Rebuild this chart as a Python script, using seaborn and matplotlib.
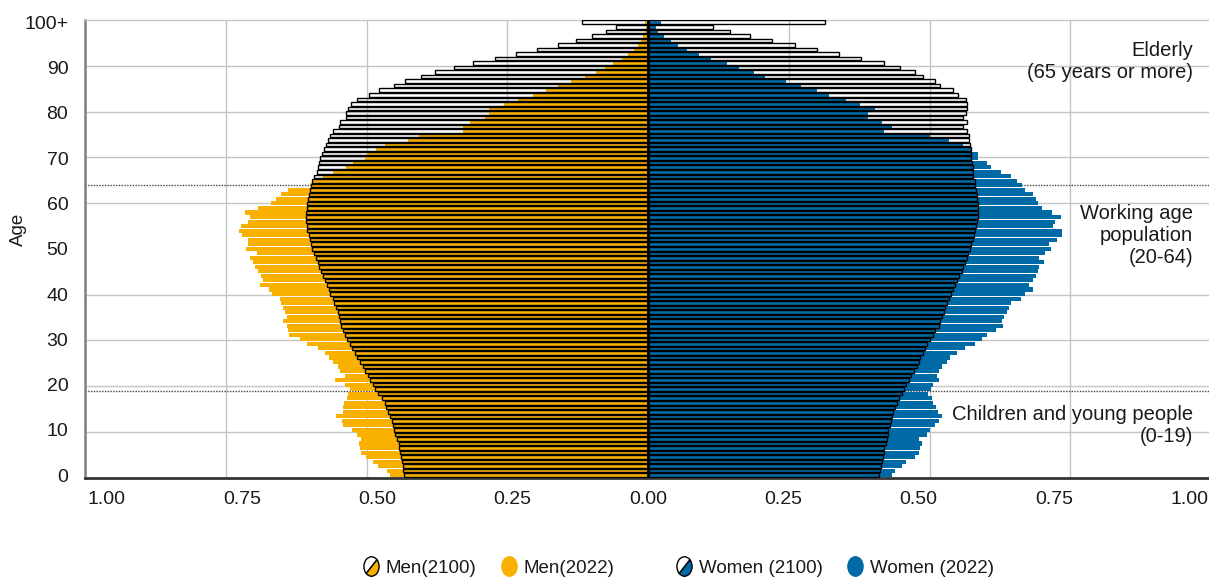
import matplotlib.pyplot as plt
import seaborn as sns
import pandas as pd
from matplotlib.markers import MarkerStyle
from matplotlib.transforms import Affine2D
from matplotlib.lines import Line2D

# share of population (%) by single year of age, age 0 .. 100+
ages = list(range(101))

men_2022 = [0.459, 0.464, 0.479, 0.488, 0.501, 0.509, 0.512, 0.513, 0.509, 0.517,
            0.526, 0.541, 0.544, 0.554, 0.541, 0.541, 0.540, 0.535, 0.532, 0.529,
            0.538, 0.556, 0.539, 0.547, 0.551, 0.559, 0.566, 0.574, 0.587, 0.606,
            0.618, 0.637, 0.639, 0.641, 0.648, 0.642, 0.645, 0.648, 0.651, 0.654,
            0.668, 0.673, 0.689, 0.684, 0.687, 0.693, 0.698, 0.701, 0.707, 0.695,
            0.714, 0.710, 0.711, 0.722, 0.726, 0.723, 0.710, 0.707, 0.715, 0.692,
            0.670, 0.661, 0.651, 0.639, 0.600, 0.596, 0.577, 0.560, 0.536, 0.524,
            0.503, 0.499, 0.483, 0.467, 0.426, 0.406, 0.329, 0.329, 0.316, 0.290,
            0.282, 0.282, 0.255, 0.231, 0.204, 0.182, 0.159, 0.136, 0.112, 0.093,
            0.076, 0.063, 0.047, 0.035, 0.025, 0.017, 0.012, 0.008, 0.005, 0.003,
            0.005]

men_2100 = [0.433, 0.435, 0.436, 0.437, 0.438, 0.440, 0.442, 0.443, 0.446, 0.449,
            0.451, 0.453, 0.455, 0.458, 0.461, 0.465, 0.468, 0.473, 0.479, 0.485,
            0.489, 0.494, 0.498, 0.502, 0.507, 0.512, 0.516, 0.520, 0.525, 0.529,
            0.534, 0.538, 0.541, 0.545, 0.547, 0.549, 0.551, 0.554, 0.557, 0.560,
            0.564, 0.567, 0.570, 0.573, 0.577, 0.580, 0.584, 0.587, 0.590, 0.593,
            0.597, 0.599, 0.601, 0.603, 0.605, 0.606, 0.607, 0.607, 0.607, 0.606,
            0.605, 0.604, 0.602, 0.600, 0.599, 0.596, 0.593, 0.588, 0.587, 0.584,
            0.582, 0.579, 0.575, 0.572, 0.569, 0.564, 0.559, 0.548, 0.547, 0.537,
            0.536, 0.532, 0.527, 0.516, 0.496, 0.478, 0.451, 0.431, 0.404, 0.379,
            0.345, 0.311, 0.272, 0.234, 0.197, 0.159, 0.127, 0.099, 0.075, 0.056,
            0.118]

women_2022 = [0.433, 0.438, 0.451, 0.459, 0.474, 0.482, 0.483, 0.486, 0.481, 0.496,
              0.500, 0.510, 0.517, 0.522, 0.515, 0.512, 0.507, 0.504, 0.498, 0.502,
              0.506, 0.517, 0.513, 0.516, 0.523, 0.531, 0.536, 0.548, 0.563, 0.580,
              0.593, 0.603, 0.618, 0.631, 0.628, 0.633, 0.637, 0.642, 0.645, 0.663,
              0.670, 0.683, 0.677, 0.683, 0.689, 0.692, 0.694, 0.704, 0.694, 0.705,
              0.716, 0.713, 0.726, 0.735, 0.735, 0.720, 0.723, 0.733, 0.717, 0.699,
              0.693, 0.689, 0.683, 0.670, 0.664, 0.655, 0.644, 0.627, 0.609, 0.603,
              0.587, 0.587, 0.574, 0.560, 0.535, 0.501, 0.419, 0.434, 0.416, 0.390,
              0.390, 0.403, 0.376, 0.351, 0.321, 0.301, 0.272, 0.245, 0.208, 0.188,
              0.162, 0.141, 0.112, 0.091, 0.069, 0.054, 0.040, 0.028, 0.018, 0.014,
              0.023]

women_2100 = [0.410, 0.412, 0.414, 0.416, 0.417, 0.419, 0.420, 0.422, 0.424, 0.426,
              0.427, 0.430, 0.431, 0.433, 0.436, 0.439, 0.442, 0.446, 0.451, 0.455,
              0.459, 0.464, 0.468, 0.472, 0.477, 0.481, 0.484, 0.488, 0.492, 0.496,
              0.501, 0.506, 0.509, 0.516, 0.519, 0.522, 0.525, 0.528, 0.531, 0.535,
              0.539, 0.542, 0.546, 0.549, 0.553, 0.557, 0.560, 0.563, 0.566, 0.569,
              0.572, 0.574, 0.577, 0.579, 0.581, 0.583, 0.584, 0.586, 0.587, 0.587,
              0.586, 0.585, 0.584, 0.583, 0.581, 0.580, 0.578, 0.578, 0.577, 0.575,
              0.574, 0.574, 0.574, 0.572, 0.571, 0.570, 0.567, 0.560, 0.566, 0.560,
              0.564, 0.566, 0.567, 0.564, 0.551, 0.541, 0.519, 0.509, 0.489, 0.475,
              0.448, 0.420, 0.378, 0.340, 0.300, 0.261, 0.220, 0.181, 0.146, 0.116,
              0.314]

x_tick_values = [-1.0, -0.75, -0.5, -0.25, 0.0, 0.25, 0.5, 0.75, 1.0]
y_tick_values = [0, 10, 20, 30, 40, 50, 60, 70, 80, 90, 100]
y_tick_labels = ["0", "10", "20", "30", "40", "50", "60", "70", "80", "90", "100+"]

ORANGE = "#F9B000"
BLUE = "#006AA7"

df = pd.DataFrame({
    "age": ages,
    "men_2022": [-v for v in men_2022],
    "men_2100": [-v for v in men_2100],
    "women_2022": women_2022,
    "women_2100": women_2100,
})

sns.set_style("white")
plt.rcParams['font.family'] = ['Liberation Sans', 'DejaVu Sans']
plt.rcParams['text.color'] = '#1a1a1a'

fig = plt.figure(figsize=(12.09, 5.80), dpi=100)
ax = fig.add_axes([85 / 1209, 102.5 / 580, 1126 / 1209, 457.5 / 580])

for col, colour in [("men_2022", ORANGE), ("women_2022", BLUE)]:
    sns.barplot(data=df, x=col, y="age", orient="y", native_scale=True,
                color=colour, saturation=1, width=0.9, errorbar=None,
                linewidth=0, ax=ax, zorder=2)

for col in ["men_2100", "women_2100"]:
    sns.barplot(data=df, x=col, y="age", orient="y", native_scale=True,
                color="black", fill=False, saturation=1, width=0.78,
                errorbar=None, linewidth=1.0, ax=ax, zorder=3)

ax.axvline(0, color="black", lw=2, zorder=5)

# age-group separators
for yv in [64, 18.6]:
    ax.axhline(yv, color="#444444", lw=1, ls=(0, (1, 1)), zorder=1)

ax.set_xlim(-1.0, 1.0)
ax.set_ylim(-0.5, 100.5)

ax.set_xticks([v * 0.961 for v in x_tick_values])
ax.set_xticklabels([f"{abs(v):.2f}" for v in x_tick_values])
ax.set_xticks([-0.75, -0.5, -0.25, 0.25, 0.5, 0.75], minor=True)
ax.set_yticks(y_tick_values)
ax.set_yticklabels(y_tick_labels)
ax.set_yticks([-0.5 + 10.1 * k for k in range(1, 10)], minor=True)
ax.grid(False, which="major")
ax.grid(True, which="minor", color="#c4c4c4", lw=1)
ax.set_axisbelow(True)
ax.tick_params(which="both", length=0, labelsize=14, colors="#1a1a1a")
ax.tick_params(axis="x", pad=10)
ax.tick_params(axis="y", pad=12)
ax.set_xlabel("")
ax.set_ylabel("")

ax.spines["left"].set_color("#7f7f7f")
ax.spines["left"].set_linewidth(1.8)
ax.spines["bottom"].set_color("#333333")
ax.spines["bottom"].set_linewidth(2)
ax.spines["top"].set_color("#c4c4c4")
ax.spines["top"].set_linewidth(1)
ax.spines["right"].set_visible(False)

fig.text(0.015, 1 - 229 / 580, "Age", rotation=90, ha="center", va="center", fontsize=13.5)

tx = 1193 / 1209
fig.text(tx, 1 - 61 / 580, "Elderly\n(65 years or more)", ha="right", va="center",
         multialignment="right", fontsize=14.5, linespacing=1.2)
fig.text(tx, 1 - 236 / 580, "Working age\npopulation\n(20-64)", ha="right", va="center",
         multialignment="right", fontsize=14.5, linespacing=1.2)
fig.text(tx, 1 - 425 / 580, "Children and young people\n(0-19)", ha="right", va="center",
         multialignment="right", fontsize=14.5, linespacing=1.2)

half = MarkerStyle("o", fillstyle="bottom",
                   transform=Affine2D().rotate_deg(45).scale(0.78, 1.0))
full = MarkerStyle("o", transform=Affine2D().scale(0.78, 1.0))


def handle(marker, face, edge):
    return Line2D([], [], ls="", marker=marker, markersize=14, markerfacecolor=face,
                  markerfacecoloralt="white", markeredgecolor=edge, markeredgewidth=1)


men_handles = [handle(half, ORANGE, "black"), handle(full, ORANGE, ORANGE)]
women_handles = [handle(half, BLUE, "black"), handle(full, BLUE, BLUE)]
for hs, labels, xc in [(men_handles, ["Men(2100)", "Men(2022)"], 488 / 1209),
                       (women_handles, ["Women (2100)", "Women (2022)"], 834 / 1209)]:
    fig.legend(hs, labels, loc="center", bbox_to_anchor=(xc, 1 - 568 / 580), ncol=2,
               frameon=False, fontsize=13.5, handlelength=1.0, handletextpad=0.3,
               columnspacing=1.2, borderpad=0)

fig.savefig("out.png", dpi=100)
